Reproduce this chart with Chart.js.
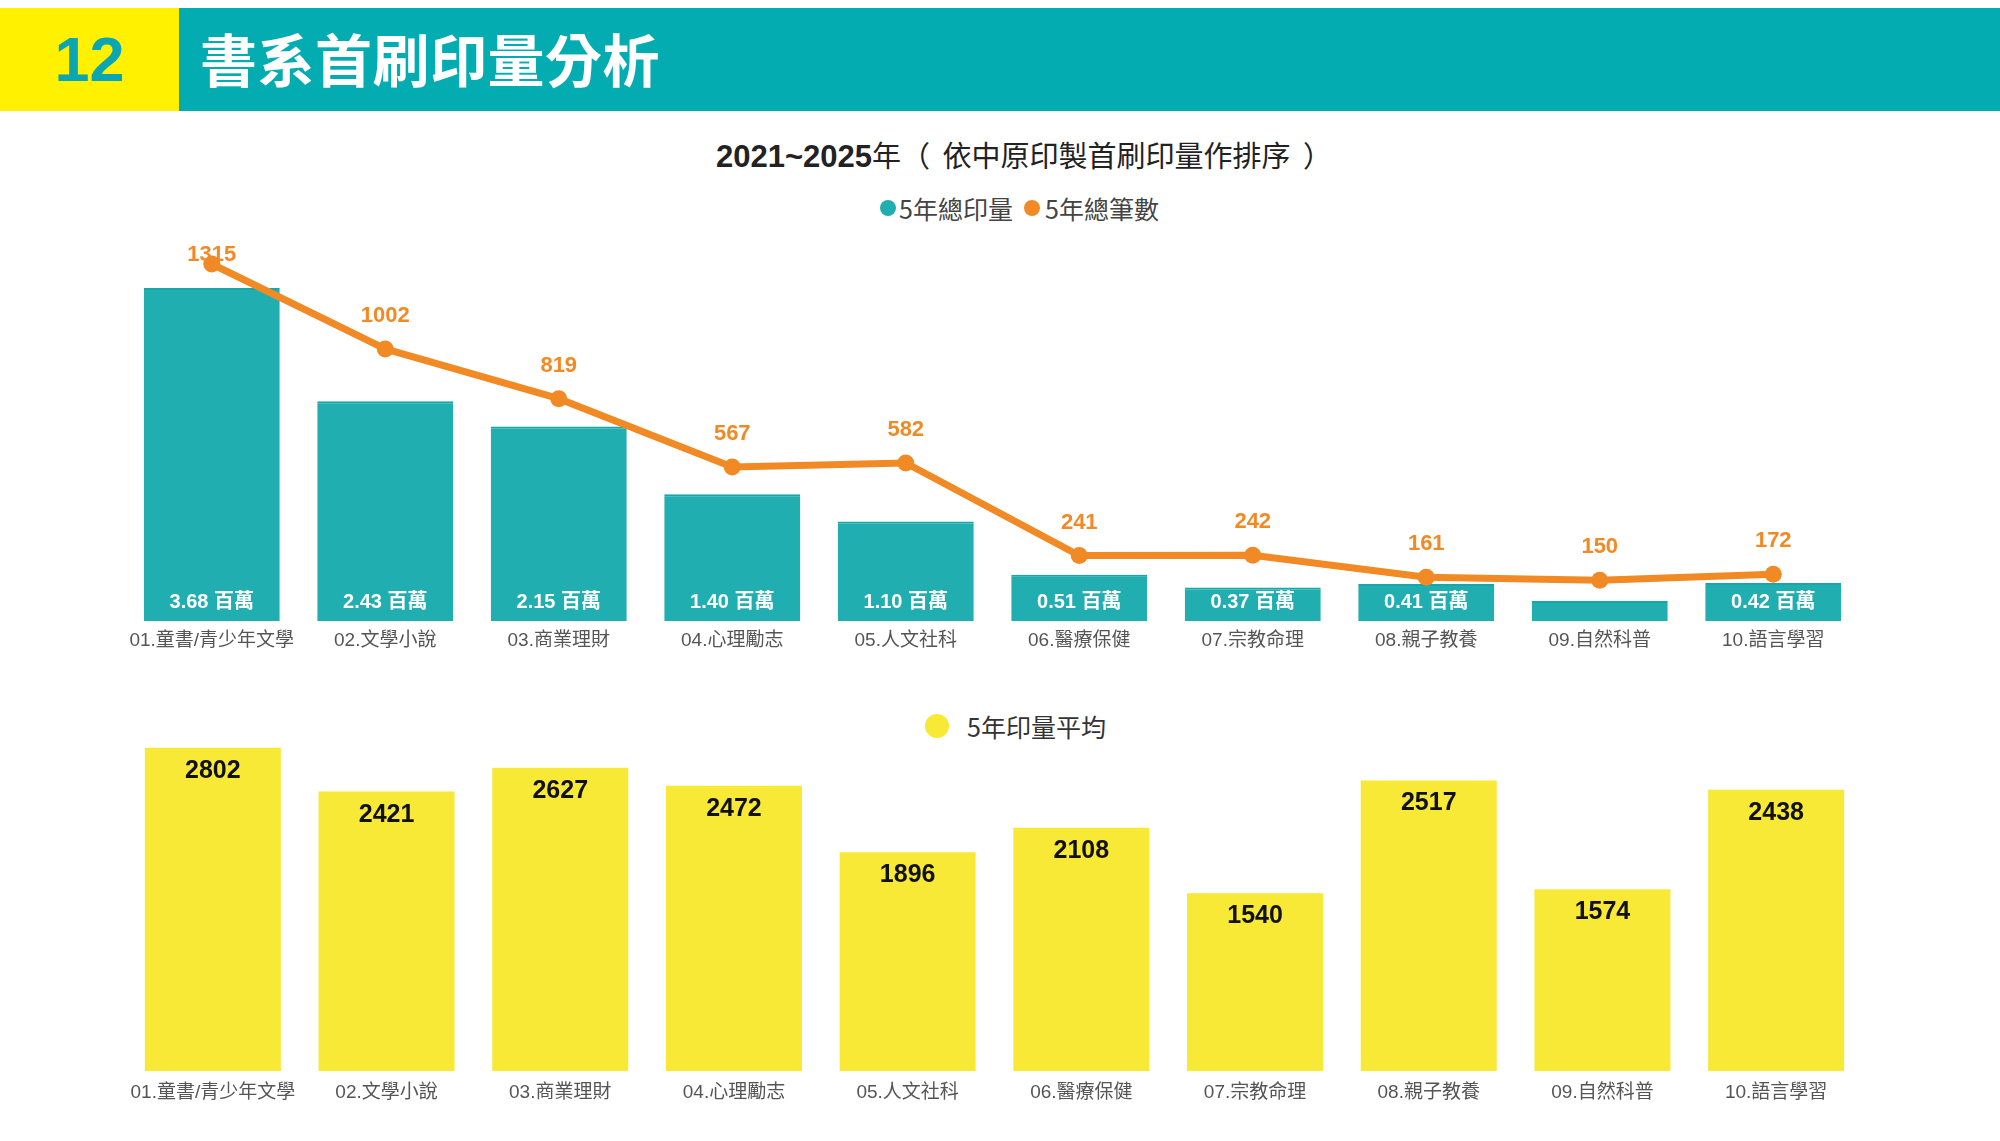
<!DOCTYPE html>
<html><head><meta charset="utf-8">
<script src="https://cdn.jsdelivr.net/npm/chart.js@4.4.1/dist/chart.umd.min.js"></script>
<style>
html,body{margin:0;padding:0;background:#fff;width:2000px;height:1141px;overflow:hidden;font-family:'Liberation Sans','Noto Sans CJK TC',sans-serif;}
.abs{position:absolute;}
#yb{left:0;top:8px;width:179px;height:103px;background:#fff100;}
#tb{left:179px;top:8px;width:1821px;height:103px;background:#03acb0;}
#num{left:0;top:8px;width:179px;height:103px;line-height:103px;text-align:center;color:#0ba6b3;font-weight:bold;font-size:63px;}
#ttl{left:200px;top:6px;height:103px;line-height:103px;color:#fff;font-size:57px;font-family:'Noto Sans CJK TC',sans-serif;font-weight:700;white-space:nowrap;letter-spacing:0.5px;}
#sub{left:716px;top:134px;height:40px;line-height:40px;font-size:29px;color:#222;font-family:'Noto Sans CJK TC',sans-serif;white-space:nowrap;word-spacing:6px;}
#sub b{font-family:'Liberation Sans',sans-serif;font-weight:bold;font-size:31px;word-spacing:0;}
.dot{border-radius:50%;}
.lg{font-size:25px;color:#444;height:30px;line-height:30px;white-space:nowrap;font-family:'Noto Sans CJK TC',sans-serif;}
#c1{left:0;top:230px;width:2000px;height:450px;}
#c2{left:0;top:730px;width:2000px;height:411px;}
</style></head>
<body>
<div id="yb" class="abs"></div>
<div id="tb" class="abs"></div>
<div id="num" class="abs">12</div>
<div id="ttl" class="abs">書系首刷印量分析</div>
<div id="sub" class="abs"><b>2021~2025</b>年（ 依中原印製首刷印量作排序 ）</div>
<div class="abs dot" style="left:880px;top:200px;width:16px;height:16px;background:#21aeb1;"></div>
<div class="abs lg" style="left:899px;top:193px;">5年總印量</div>
<div class="abs dot" style="left:1024px;top:200px;width:16px;height:16px;background:#f18a25;"></div>
<div class="abs lg" style="left:1045px;top:193px;">5年總筆數</div>
<div class="abs dot" style="left:925px;top:714px;width:24px;height:24px;background:#f7e935;"></div>
<div class="abs lg" style="left:967px;top:711px;color:#333;">5年印量平均</div>
<div id="c1" class="abs"><canvas id="cv1"></canvas></div>
<div id="c2" class="abs"><canvas id="cv2"></canvas></div>
<script>
const categories = ['01.童書/青少年文學','02.文學小說','03.商業理財','04.心理勵志','05.人文社科','06.醫療保健','07.宗教命理','08.親子教養','09.自然科普','10.語言學習'];
const totalPrint = [3.68, 2.43, 2.15, 1.40, 1.10, 0.51, 0.37, 0.41, 0.22, 0.42];   // 百萬
const totalTitles = [1315, 1002, 819, 567, 582, 241, 242, 161, 150, 172];
const avgPrint = [2802, 2421, 2627, 2472, 1896, 2108, 1540, 2517, 1574, 2438];

const FONT = "'Liberation Sans','Noto Sans CJK TC',sans-serif";
const TEAL = '#21aeb1', ORANGE = '#f18a25', YELLOW = '#f7e935';
Chart.defaults.font.family = FONT;
Chart.defaults.animation = false;

const topLabels = {
  id: 'topLabels',
  beforeDatasetsDraw(chart) {
    const ctx = chart.ctx, area = chart.chartArea;
    const lm = chart.getDatasetMeta(0);
    ctx.save();
    ctx.font = 'bold 22px ' + FONT;
    ctx.fillStyle = ORANGE; ctx.textAlign = 'center'; ctx.textBaseline = 'middle';
    lm.data.forEach((el, i) => {
      ctx.fillText(String(totalTitles[i]), el.x, Math.max(el.y - 33, area.top + 11));
    });
    ctx.restore();
  },
  afterDatasetsDraw(chart) {
    const ctx = chart.ctx;
    const bm = chart.getDatasetMeta(1);
    ctx.save();
    ctx.font = 'bold 20px ' + FONT;
    ctx.fillStyle = '#fff'; ctx.textAlign = 'center'; ctx.textBaseline = 'middle';
    bm.data.forEach((el, i) => {
      if (el.base - el.y < 30) return;
      ctx.fillText(totalPrint[i].toFixed(2) + ' 百萬', el.x, el.base - 19);
    });
    ctx.restore();
  }
};

new Chart(document.getElementById('cv1'), {
  data: {
    labels: categories,
    datasets: [
      { type: 'line', label: '5年總筆數', data: totalTitles, yAxisID: 'y1', order: 0,
        borderColor: ORANGE, backgroundColor: ORANGE, borderWidth: 7, tension: 0,
        pointRadius: 8.5, pointBackgroundColor: ORANGE, pointBorderWidth: 0 },
      { type: 'bar', label: '5年總印量', data: totalPrint, yAxisID: 'y', order: 1,
        backgroundColor: TEAL, borderColor: '#17a6a9', borderWidth: {top: 2, left: 0, right: 0, bottom: 0},
        categoryPercentage: 1, barPercentage: 0.784 }
    ]
  },
  options: {
    responsive: true, maintainAspectRatio: false, devicePixelRatio: 1,
    layout: { padding: { left: 125, right: 140, top: 14, bottom: 0 } },
    plugins: { legend: { display: false }, tooltip: { enabled: false } },
    scales: {
      x: { grid: { display: false, drawTicks: false }, border: { display: false },
           ticks: { color: '#555', font: { size: 19 }, padding: 8, maxRotation: 0, autoSkip: false },
           afterFit(s) { s.height = 59; } },
      y: { display: false, min: 0, max: 4.167 },
      y1: { display: false, min: 0, max: 1388.6, position: 'right' }
    }
  },
  plugins: [topLabels]
});

const botLabels = {
  id: 'botLabels',
  afterDatasetsDraw(chart) {
    const ctx = chart.ctx;
    const bm = chart.getDatasetMeta(0);
    ctx.save();
    ctx.font = 'bold 25px ' + FONT;
    ctx.fillStyle = '#111'; ctx.textAlign = 'center'; ctx.textBaseline = 'middle';
    bm.data.forEach((el, i) => { ctx.fillText(String(avgPrint[i]), el.x, el.y + 23); });
    ctx.restore();
  }
};

new Chart(document.getElementById('cv2'), {
  type: 'bar',
  data: {
    labels: categories,
    datasets: [{ label: '5年印量平均', data: avgPrint, backgroundColor: YELLOW,
                 categoryPercentage: 1, barPercentage: 0.783 }]
  },
  options: {
    responsive: true, maintainAspectRatio: false, devicePixelRatio: 1,
    layout: { padding: { left: 126, right: 137, top: 0, bottom: 0 } },
    plugins: { legend: { display: false }, tooltip: { enabled: false } },
    scales: {
      x: { grid: { display: false, drawTicks: false }, border: { display: false },
           ticks: { color: '#555', font: { size: 19 }, padding: 10, maxRotation: 0, autoSkip: false },
           afterFit(s) { s.height = 70; } },
      y: { display: false, min: 0, max: 2955 }
    }
  },
  plugins: [botLabels]
});
</script>
</body></html>
